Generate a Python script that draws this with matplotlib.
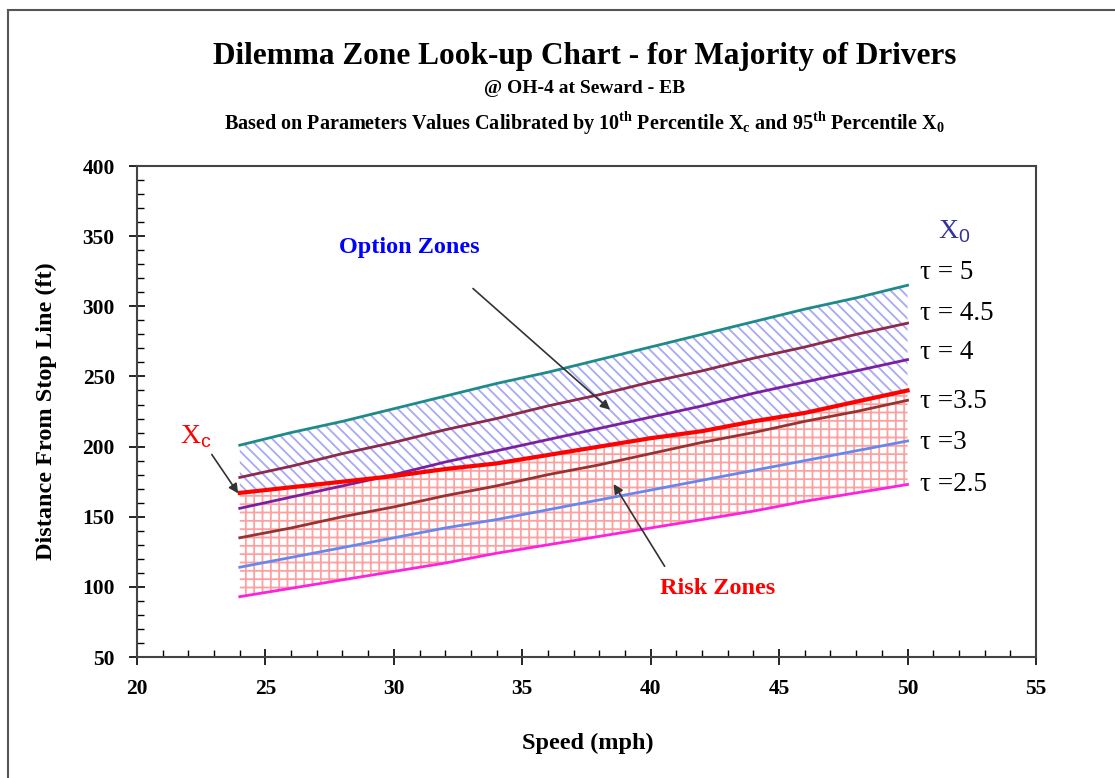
import matplotlib
matplotlib.use("Agg")
import matplotlib.pyplot as plt
from matplotlib.patches import Rectangle
from matplotlib.ticker import MultipleLocator

plt.rcParams['font.family'] = ['Liberation Serif', 'DejaVu Serif']
plt.rcParams['mathtext.fontset'] = 'custom'
plt.rcParams['mathtext.rm'] = 'Liberation Serif'
plt.rcParams['mathtext.bf'] = 'Liberation Serif:bold'
plt.rcParams['mathtext.sf'] = 'Liberation Sans'
plt.rcParams['hatch.linewidth'] = 1.3

# speed (mph)
speed = [24, 26, 28, 30, 32, 34, 36, 38, 40, 42, 44, 46, 48, 50]

# X0 curves for each tau (ft)
tau_labels = ['τ = 5', 'τ = 4.5', 'τ = 4', 'τ =3.5', 'τ =3', 'τ =2.5']
x0_tau5 = [201, 210, 218, 227, 236, 245, 253, 262, 271, 280, 289, 298, 306, 315]
x0_tau45 = [178, 186, 195, 203, 212, 220, 229, 237, 246, 254, 263, 271, 280, 288]
x0_tau4 = [156, 164, 172, 180, 189, 197, 205, 213, 221, 229, 238, 246, 254, 262]
x0_tau35 = [135, 142, 150, 157, 165, 172, 180, 187, 195, 203, 210, 218, 225, 233]
x0_tau3 = [114, 121, 128, 135, 142, 148, 155, 162, 169, 176, 183, 190, 197, 204]
x0_tau25 = [93, 99, 105, 111, 117, 124, 130, 136, 142, 148, 154, 161, 167, 173]

# Xc curve (ft)
xc = [167, 171, 175, 179, 184, 188, 194, 200, 206, 211, 218, 224, 232, 240]

fig = plt.figure(figsize=(11.15, 7.78), dpi=100)
ax = fig.add_axes([0.1229, 0.1555, 0.8062, 0.6311])

# zones
ax.fill_between(speed, xc, x0_tau5, facecolor='none', edgecolor='#a8a8f4',
                hatch='\\\\\\', linewidth=0)
ax.fill_between(speed, x0_tau25, xc, facecolor='none', edgecolor='#ffa0a0',
                hatch='++', linewidth=0)

colors = ['#1f8a8a', '#8b2a4a', '#7a1fa0', '#993333', '#6688ee', '#ff22dd']
series = [x0_tau5, x0_tau45, x0_tau4, x0_tau35, x0_tau3, x0_tau25]
for vals, c in zip(series, colors):
    ax.plot(speed, vals, color=c, linewidth=2)
ax.plot(speed, xc, color='#ff0000', linewidth=3)

ax.set_xlim(20, 55)
ax.set_ylim(50, 400)
ax.xaxis.set_major_locator(MultipleLocator(5))
ax.xaxis.set_minor_locator(MultipleLocator(1))
ax.yaxis.set_major_locator(MultipleLocator(50))
ax.yaxis.set_minor_locator(MultipleLocator(10))
ax.tick_params(which='major', direction='inout', length=12, width=1.2,
               labelsize=15.5, pad=10)
ax.tick_params(which='minor', direction='in', length=5, width=1)
for lab in ax.get_xticklabels() + ax.get_yticklabels():
    lab.set_fontweight('bold')
for sp in ax.spines.values():
    sp.set_color('#444444')
    sp.set_linewidth(1.5)

# labels on the right
tau_y = [324, 295, 267, 232, 203, 173]
for lab, y in zip(tau_labels, tau_y):
    ax.text(50.5, y, lab, fontsize=19.5, ha='left', va='center', color='black')
ax.text(51.2, 353, r'X$_{\mathsf{0}}$', fontsize=20, color='#333399',
        ha='left', va='center')

arrow = dict(arrowstyle='-|>', color='#333333', lw=1.2, mutation_scale=14)
ax.text(30.6, 342, 'Option Zones', fontsize=17.5, fontweight='bold',
        color='#0000ff', ha='center', va='center')
ax.annotate('', xy=(38.5, 225), xytext=(33.0, 314), arrowprops=arrow)
ax.text(42.6, 99, 'Risk Zones', fontsize=17.5, fontweight='bold',
        color='#ff0000', ha='center', va='center')
ax.annotate('', xy=(38.5, 175), xytext=(40.6, 113), arrowprops=arrow)
ax.text(22.3, 207, r'X$_{\mathsf{c}}$', fontsize=20, color='#ff0000',
        ha='center', va='center')
ax.annotate('', xy=(24.0, 165), xytext=(22.85, 196), arrowprops=arrow)

# titles
fig.text(0.524, 0.927, 'Dilemma Zone Look-up Chart - for Majority of Drivers',
         fontsize=22.5, fontweight='bold', ha='center', va='center')
fig.text(0.524, 0.886, '@ OH-4 at Seward - EB', fontsize=14,
         fontweight='bold', ha='center', va='center')
fig.text(0.524, 0.842,
         r'Based on Parameters Values Calibrated by 10$^{\mathbf{th}}$ '
         r'Percentile X$_{\mathbf{c}}$ and 95$^{\mathbf{th}}$ Percentile X$_{\mathbf{0}}$',
         fontsize=14.5, fontweight='bold', ha='center', va='center')

fig.text(0.527, 0.045, 'Speed (mph)', fontsize=17.5, fontweight='bold',
         ha='center', va='center')
fig.text(0.042, 0.4717, 'Distance From Stop Line (ft)', fontsize=17.5,
         fontweight='bold', ha='center', va='center', rotation=90)

# chart border
fig.patches.append(Rectangle((8 / 1115, -0.1), 1.2, 1.1 - 10 / 778,
                             transform=fig.transFigure, fill=False,
                             edgecolor='#555555', linewidth=1.5))

fig.savefig('out.png', dpi=100)
